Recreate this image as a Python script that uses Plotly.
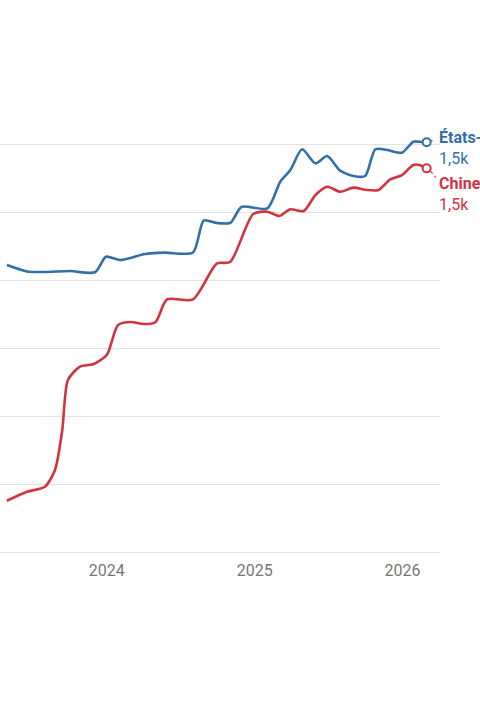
import plotly.graph_objects as go

# --- data ---
us_dates = ["2023-04-29", "2023-06-18", "2023-08-01", "2023-10-02", "2023-12-03",
            "2023-12-30", "2024-02-03", "2024-04-05", "2024-05-24", "2024-08-01",
            "2024-08-28", "2024-09-29", "2024-11-02", "2024-11-29", "2025-02-01",
            "2025-03-05", "2025-03-30", "2025-04-28", "2025-05-31", "2025-06-29",
            "2025-07-31", "2025-09-02", "2025-10-01", "2025-10-26", "2025-11-24",
            "2025-12-31", "2026-01-28", "2026-02-12", "2026-03-02"]
us_values = [1411.0, 1406.3, 1405.9, 1406.6, 1405.7,
             1417.1, 1414.7, 1419.1, 1420.1, 1420.2,
             1443.8, 1441.9, 1442.1, 1453.7, 1452.7,
             1472.3, 1480.9, 1496.1, 1485.8, 1491.2,
             1480.4, 1476.5, 1476.5, 1496.1, 1495.6,
             1493.6, 1501.7, 1501.7, 1501.3]

cn_dates = ["2023-04-29", "2023-06-18", "2023-08-01", "2023-08-26", "2023-09-13",
            "2023-09-27", "2023-10-27", "2023-11-28", "2024-01-01", "2024-01-29",
            "2024-03-01", "2024-03-31", "2024-04-30", "2024-05-29", "2024-08-01",
            "2024-09-29", "2024-11-01", "2024-12-28", "2025-02-01", "2025-03-03",
            "2025-03-30", "2025-05-02", "2025-05-31", "2025-06-29", "2025-07-31",
            "2025-09-02", "2025-10-05", "2025-11-03", "2025-12-02", "2025-12-31",
            "2026-01-28", "2026-02-12", "2026-03-02"]
cn_values = [1237.7, 1244.3, 1248.0, 1260.3, 1289.7,
             1326.5, 1336.3, 1338.0, 1344.9, 1366.9,
             1369.1, 1367.6, 1368.9, 1385.7, 1385.7,
             1412.1, 1413.2, 1448.5, 1450.2, 1447.1,
             1452.0, 1450.7, 1462.5, 1468.6, 1464.9,
             1467.9, 1466.2, 1466.2, 1474.0, 1477.2,
             1484.6, 1484.6, 1482.1]

series_names = ["États-Unis", "Chine"]
end_labels = ["1,5k", "1,5k"]
year_ticks = ["2024-01-01", "2025-01-01", "2026-01-01"]
year_labels = ["2024", "2025", "2026"]

BLUE = "#3170a9"
RED = "#d2343f"
GRID = "#e3e3e3"
FONT = "Roboto"

fig = go.Figure()

for dates, vals, col in [(us_dates, us_values, BLUE), (cn_dates, cn_values, RED)]:
    fig.add_trace(go.Scatter(
        x=dates, y=vals, mode="lines",
        line=dict(color=col, width=2.6, shape="spline", smoothing=0.7),
        hoverinfo="skip", showlegend=False))
    fig.add_trace(go.Scatter(
        x=[dates[-1]], y=[vals[-1]], mode="markers",
        marker=dict(size=8, color="white", line=dict(color=col, width=2)),
        hoverinfo="skip", showlegend=False))

# leader lines + end labels
specs = [(us_dates, us_values, BLUE, series_names[0], end_labels[0], (3, 8, 2, 1), 16),
         (cn_dates, cn_values, RED, series_names[1], end_labels[1], (4, 9, -3, -9), -4)]
for dates, vals, col, name, lab, (px0, px1, py0, py1), ysh in specs:
    fig.add_shape(type="line", xref="x", yref="y",
                  xsizemode="pixel", ysizemode="pixel",
                  xanchor=dates[-1], yanchor=vals[-1],
                  x0=px0, x1=px1, y0=py0, y1=py1,
                  line=dict(color=col, width=1.2, dash="dot"))
    fig.add_annotation(x=dates[-1], y=vals[-1], xref="x", yref="y",
                       text=f"<b>{name}</b><br>{lab}",
                       showarrow=False, xanchor="left", yanchor="top", align="left",
                       xshift=10, yshift=ysh,
                       font=dict(family=FONT, size=16, color=col))

fig.update_layout(
    width=480, height=720,
    margin=dict(l=0, r=40, t=130, b=168),
    paper_bgcolor="white", plot_bgcolor="white",
    font=dict(family=FONT),
    xaxis=dict(type="date", range=["2023-04-12", "2026-04-04"],
               tickvals=year_ticks, ticktext=year_labels,
               showgrid=False, zeroline=False,
               showline=True, linecolor=GRID, linewidth=1,
               ticks="outside", ticklen=4, tickcolor="rgba(0,0,0,0)",
               tickfont=dict(family=FONT, size=16, color="#777777")),
    yaxis=dict(range=[1200, 1510.3], dtick=50, tick0=1200,
               showgrid=True, gridcolor=GRID, gridwidth=1,
               zeroline=False, showline=False, showticklabels=False),
)

fig.write_html("out.html", config={"displayModeBar": False, "staticPlot": True},
               post_script="document.body.style.margin='0px';document.body.style.overflow='hidden';")
